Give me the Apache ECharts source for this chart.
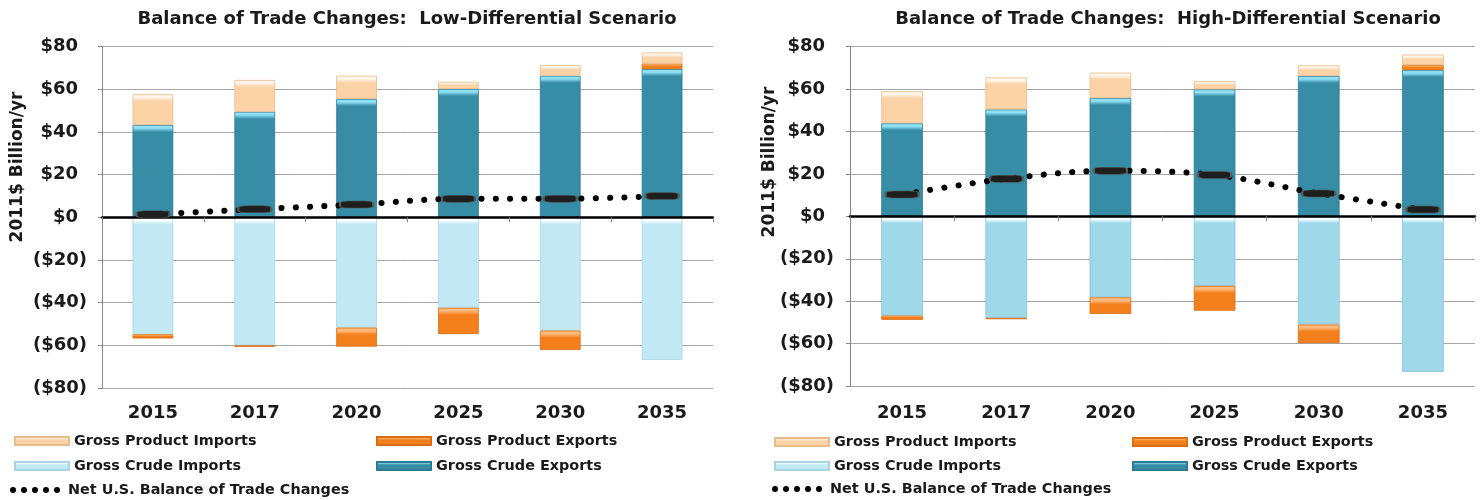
<!DOCTYPE html>
<html><head><meta charset="utf-8">
<script src="https://cdn.jsdelivr.net/npm/echarts@6/dist/echarts.min.js"></script>
<style>html,body{margin:0;padding:0;background:#fff}#c{width:1481px;height:500px}</style>
</head><body><div id="c"></div>
<script>
// ---------- data ----------
const years = ['2015', '2017', '2020', '2025', '2030', '2035'];
const yTicks = [-80, -60, -40, -20, 0, 20, 40, 60, 80];

const lowCrudeExports   = [43.3, 49.5, 55.5, 60.2, 66.4, 69.5];
const lowCrudeImports   = [-54.8, -60.0, -51.7, -42.4, -53.1, -66.8];
const lowProductExports = [-2.0, -0.7, -8.9, -12.3, -9.0, 2.6];
const lowProductImports = [14.4, 14.9, 10.9, 3.4, 5.0, 5.2];
const lowNet            = [1.4, 3.8, 6.0, 8.7, 8.7, 10.0];

const highCrudeExports   = [43.9, 50.4, 55.8, 59.9, 66.2, 69.0];
const highCrudeImports   = [-46.8, -47.9, -38.2, -32.8, -51.0, -73.3];
const highProductExports = [-2.0, -0.6, -7.8, -11.7, -8.8, 2.4];
const highProductImports = [15.1, 15.1, 12.0, 3.8, 5.0, 4.9];
const highNet            = [10.3, 17.7, 21.5, 19.5, 10.8, 3.2];

const titles = ['Balance of Trade Changes:  Low-Differential Scenario',
                'Balance of Trade Changes:  High-Differential Scenario'];
const yName = '2011$ Billion/yr';
const N_PI = 'Gross Product Imports', N_PE = 'Gross Product Exports',
      N_CI = 'Gross Crude Imports', N_CE = 'Gross Crude Exports',
      N_NET = 'Net U.S. Balance of Trade Changes';

// ---------- styles ----------
const FONT = 'DejaVu Sans';
const TXT = '#1a1a1a';
const C = {
  ce:  {top: '#8fe0f5', base: '#378ca6', edge: '#2e7b93'},
  ciL: {top: '#fbffff', base: '#c2e8f3', edge: '#a8d5e2'},
  ciH: {top: '#effbff', base: '#9fd8e9', edge: '#86c3d6'},
  pe:  {top: '#fdba7c', base: '#f4801d', edge: '#d96d10'},
  pi:  {top: '#fff5e8', base: '#fbd3a7', edge: '#e8bb8c'}
};
const PX = 2.13;
function grad(c, f) {
  return {type: 'linear', x: 0, y: 0, x2: 0, y2: 1, colorStops: [
    {offset: 0, color: c.top}, {offset: f * 0.45, color: c.top},
    {offset: f, color: c.base}, {offset: 1, color: c.base}]};
}
function seg(vals, c) {
  return vals.map(v => {
    const h = Math.max(1, Math.abs(v) * PX);
    return {value: v, itemStyle: {color: grad(c, Math.min(0.45, 7 / h))}};
  });
}

const grids = [
  {left: 102, top: 46.7, width: 611, height: 341.3},
  {left: 850, top: 46.7, width: 625, height: 339.3}
];
const labelMargins = [16, 18];
const yLabelMargins = [15, 16];

const xAxes = [], yAxes = [], series = [];
const data = [
  {ce: lowCrudeExports, ci: lowCrudeImports, pe: lowProductExports, pi: lowProductImports, net: lowNet, ciC: C.ciL},
  {ce: highCrudeExports, ci: highCrudeImports, pe: highProductExports, pi: highProductImports, net: highNet, ciC: C.ciH}
];

data.forEach((d, i) => {
  xAxes.push({
    type: 'category', gridIndex: i, data: years, position: 'bottom',
    axisLine: {show: false, onZero: false}, axisTick: {show: false},
    axisLabel: {margin: labelMargins[i], fontFamily: FONT, fontWeight: 'bold', fontSize: 18, color: TXT},
    splitLine: {show: false}
  });
  xAxes.push({
    type: 'category', gridIndex: i, data: years, position: 'bottom',
    axisLine: {show: true, onZero: true, lineStyle: {color: '#000', width: 2.5}},
    axisTick: {show: true, length: 5, lineStyle: {color: '#888', width: 1}},
    axisLabel: {show: false}, splitLine: {show: false}, z: 4
  });
  yAxes.push({
    type: 'value', gridIndex: i, min: -80, max: 80, interval: 20,
    axisLine: {show: true, lineStyle: {color: '#888', width: 1}},
    axisTick: {show: true, length: 4, lineStyle: {color: '#888'}},
    splitLine: {show: true, lineStyle: {color: '#a6a6a6', width: 1}},
    axisLabel: {
      margin: yLabelMargins[i], fontFamily: FONT, fontWeight: 'bold', fontSize: 18, color: TXT,
      formatter: v => v < 0 ? '($' + (-v) + ')' : '{p|$' + v + '}',
      rich: {p: {fontFamily: FONT, fontWeight: 'bold', fontSize: 18, color: TXT, padding: [0, 9, 0, 0]}}
    }
  });
  const common = {type: 'bar', xAxisIndex: i * 2, yAxisIndex: i, stack: 'trade' + i, barWidth: '40%',
    emphasis: {disabled: true}, z: 2};
  const bs = c => ({color: grad(c, 0.4), borderColor: c.edge, borderWidth: 0.8});
  series.push(Object.assign({name: N_CE, data: seg(d.ce, C.ce), itemStyle: bs(C.ce)}, common));
  series.push(Object.assign({name: N_CI, data: seg(d.ci, d.ciC), itemStyle: Object.assign(bs(C.ciL), {borderColor: d.ciC.edge})}, common));
  series.push(Object.assign({name: N_PE, data: seg(d.pe, C.pe), itemStyle: bs(C.pe)}, common));
  series.push(Object.assign({name: N_PI, data: seg(d.pi, C.pi), itemStyle: bs(C.pi)}, common));
  series.push({
    name: N_NET, type: 'line', xAxisIndex: i * 2, yAxisIndex: i, data: d.net, smooth: 0.35,
    symbol: 'roundRect', symbolSize: [33, 7],
    itemStyle: {color: '#1e1e1e', borderColor: '#5a5a5a', borderWidth: 1},
    lineStyle: {color: '#000', width: 6, type: [0.1, 14.2], cap: 'round'},
    emphasis: {disabled: true}, z: 5
  });
});

// legends
const dotsIcon = 'path://M0,3a3,3 0 1,0 6,0a3,3 0 1,0 -6,0M11,3a3,3 0 1,0 6,0a3,3 0 1,0 -6,0M22,3a3,3 0 1,0 6,0a3,3 0 1,0 -6,0M33,3a3,3 0 1,0 6,0a3,3 0 1,0 -6,0M44,3a3,3 0 1,0 6,0a3,3 0 1,0 -6,0';
const legendSpots = [
  [{n: N_PI, x: 14, y: 441}, {n: N_PE, x: 376, y: 441}, {n: N_CI, x: 14, y: 466}, {n: N_CE, x: 376, y: 466}, {n: N_NET, x: 10, y: 490}],
  [{n: N_PI, x: 774, y: 442}, {n: N_PE, x: 1132, y: 442}, {n: N_CI, x: 774, y: 466}, {n: N_CE, x: 1132, y: 466}, {n: N_NET, x: 772, y: 489}]
];
const legends = [];
legendSpots.forEach(arr => arr.forEach(s => {
  const isNet = s.n === N_NET;
  legends.push({
    data: [{name: s.n, icon: isNet ? dotsIcon : 'rect'}],
    left: s.x, top: s.y - 8, padding: 0, selectedMode: false,
    itemWidth: isNet ? 56 : 54, itemHeight: isNet ? 6 : 8,
    itemStyle: isNet ? {borderWidth: 0, color: '#000'} : {},
    textStyle: {fontFamily: FONT, fontWeight: 'bold', fontSize: 14.4, color: TXT, lineHeight: 16}
  });
}));

const tf = 'bold 18px "DejaVu Sans"';
const graphic = [
  {type: 'text', x: 407, y: 19, style: {text: titles[0], font: tf, fill: TXT, align: 'center', verticalAlign: 'middle'}},
  {type: 'text', x: 1168, y: 19, style: {text: titles[1], font: tf, fill: TXT, align: 'center', verticalAlign: 'middle'}},
  {type: 'text', x: 18, y: 167, rotation: Math.PI / 2, style: {text: yName, font: 'bold 17px "DejaVu Sans"', fill: TXT, align: 'center', verticalAlign: 'middle'}},
  {type: 'text', x: 770, y: 162, rotation: Math.PI / 2, style: {text: yName, font: 'bold 17px "DejaVu Sans"', fill: TXT, align: 'center', verticalAlign: 'middle'}}
];

const chart = echarts.init(document.getElementById('c'), null, {renderer: 'canvas'});
chart.setOption({
  animation: false,
  backgroundColor: '#fff',
  grid: grids.map(g => Object.assign({outerBoundsMode: 'none', containLabel: false}, g)),
  xAxis: xAxes, yAxis: yAxes, series: series, legend: legends, graphic: graphic
});
</script></body></html>
